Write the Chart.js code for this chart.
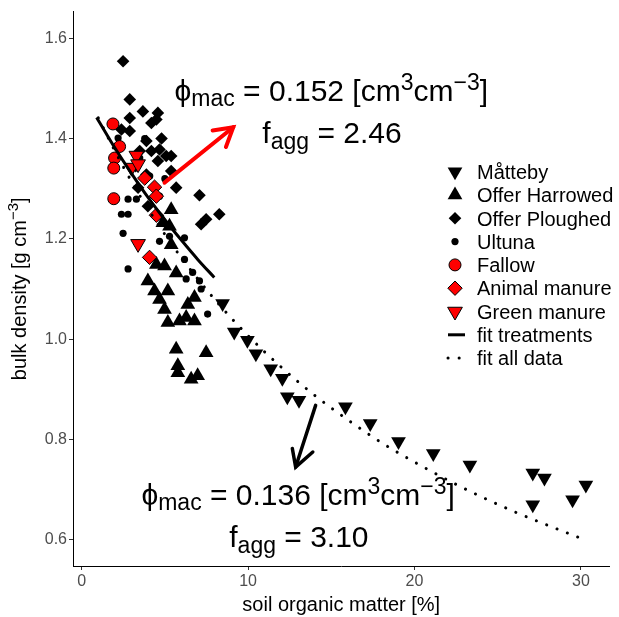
<!DOCTYPE html>
<html>
<head>
<meta charset="utf-8">
<script src="https://cdn.jsdelivr.net/npm/chart.js@4.4.1/dist/chart.umd.min.js"></script>
<style>
  html, body { margin: 0; padding: 0; background: #fff; }
</style>
</head>
<body>
<canvas id="myChart" width="619" height="617"></canvas>
<script>
// values, [SOM %, bulk density g cm-3]
var matteby = [[8.47,1.071],[9.17,1.014],[9.96,0.998],[10.47,0.971],[11.36,0.941],[12.06,0.922],
  [12.36,0.885],[13.06,0.878],[15.85,0.865],[17.34,0.832],[19.04,0.796],[21.13,0.772],[23.33,0.749],
  [27.11,0.733],[27.81,0.723],[27.11,0.670],[29.5,0.680],[30.30,0.709]];
var offerHarrowed = [[5.38,1.258],[4.88,1.232],[5.28,1.225],[5.38,1.188],[4.49,1.149],[4.98,1.146],
  [5.68,1.132],[3.98,1.116],[4.38,1.096],[5.18,1.096],[4.68,1.079],[4.98,1.059],[6.38,1.069],
  [6.78,1.083],[5.18,1.033],[5.88,1.036],[6.28,1.043],[6.78,1.036],[5.68,0.980],[7.48,0.973],
  [5.78,0.947],[5.78,0.933],[6.58,0.920],[6.97,0.927]];
var offerPloughed = [[2.49,1.554],[2.89,1.478],[3.68,1.454],[4.58,1.451],[2.89,1.441],[4.19,1.431],
  [4.49,1.438],[2.39,1.418],[2.89,1.415],[3.89,1.395],[4.68,1.378],[5.08,1.365],[5.38,1.365],
  [4.19,1.375],[4.58,1.355],[3.89,1.328],[5.68,1.302],[7.08,1.287],[8.27,1.249],[7.48,1.239],
  [3.39,1.302],[7.18,1.229],[3.98,1.265],[3.25,1.345],[3.49,1.375],[4.8,1.40],[5.38,1.335]];
var ultuna = [[2.19,1.401],[3.49,1.361],[2.79,1.279],[3.29,1.279],[2.39,1.249],[2.79,1.249],
  [2.49,1.211],[2.79,1.140],[6.18,1.202],[6.18,1.159],[6.28,1.120],[6.67,1.133],[7.08,1.116],
  [7.18,1.100],[7.57,1.050],[3.79,1.40],[4.68,1.285],[4.09,1.325],[5.28,1.205],[4.68,1.195],[5.0,1.32]];
var fallow = [[1.88,1.429],[2.28,1.384],[1.98,1.361],[1.93,1.341],[1.93,1.280]];
var animalManure = [[3.79,1.321],[4.38,1.303],[4.49,1.285],[4.49,1.247],[4.08,1.163]];
var greenManure = [[3.29,1.366],[3.0,1.342],[3.39,1.349],[3.39,1.190]];

// fitted curves
var fitTreatments = [[0.9,1.442],[2,1.381],[3,1.330],[4,1.282],[5,1.238],[6,1.197],[7,1.158],[7.97,1.123]];
var fitAll = [[1,1.441],[2,1.375],[3,1.314],[4,1.259],[5,1.209],[6,1.162],[8,1.079],[10,1.007],
  [12,0.944],[14,0.888],[16,0.839],[18,0.794],[20,0.755],[22,0.719],[24,0.686],[26,0.656],
  [28,0.629],[30,0.603]];

// arrows (data units)
var redArrow = [[4.98,1.312],[9.11,1.4225]];
var redHead = [[7.87,1.416],[9.11,1.4225],[8.67,1.383]];
var blackArrow = [[14.06,0.868],[12.86,0.745]];
var blackHead = [[12.66,0.782],[12.86,0.745],[13.89,0.775]];

var xTicks = [0, 10, 20, 30];
var yTicks = [0.6, 0.8, 1.0, 1.2, 1.4, 1.6];

var FONT = '"Liberation Sans", Arial, sans-serif';

function xy(arr) {
  return arr.map(function (p) { return { x: p[0], y: p[1] }; });
}

function pts(label, arr, style, r, rot, fill, stroke, bw, order) {
  return {
    label: label, data: xy(arr), showLine: false,
    pointStyle: style, pointRadius: r, pointRotation: rot,
    pointBackgroundColor: fill, pointBorderColor: stroke, pointBorderWidth: bw,
    order: order
  };
}

function arrow(arr, col, w) {
  return {
    data: xy(arr), showLine: true, isArrow: true, pointRadius: 0,
    borderColor: col, borderWidth: w, borderCapStyle: 'round', borderJoinStyle: 'miter',
    fill: false, order: 0
  };
}

// text with sub/superscripts
function rich(ctx, x, y, parts) {
  var cx = x;
  parts.forEach(function (p) {
    ctx.font = p[1] + 'px ' + FONT;
    ctx.fillText(p[0], cx, y + (p[2] || 0));
    cx += ctx.measureText(p[0]).width;
  });
}
function richWidth(ctx, parts) {
  var w = 0;
  parts.forEach(function (p) {
    ctx.font = p[1] + 'px ' + FONT;
    w += ctx.measureText(p[0]).width;
  });
  return w;
}

var labels = [
  { at: [5.58, 1.474], parts: [['ϕ', 30], ['mac', 23, 5], [' = 0.152 [cm', 30], ['3', 23, -11], ['cm', 30], ['−3', 23, -11], [']', 30]] },
  { at: [10.86, 1.391], parts: [['f', 30], ['agg', 23, 6], [' = 2.46', 30]] },
  { at: [3.59, 0.669], parts: [['ϕ', 30], ['mac', 23, 5], [' = 0.136 [cm', 30], ['3', 23, -11], ['cm', 30], ['−3', 23, -11], [']', 30]] },
  { at: [8.87, 0.586], parts: [['f', 30], ['agg', 23, 6], [' = 3.10', 30]] }
];

var textPlugin = {
  id: 'texts',
  afterDatasetsDraw: function (chart) {
    var ctx = chart.ctx, sx = chart.scales.x, sy = chart.scales.y;
    ctx.save();
    ctx.fillStyle = '#000';
    ctx.textBaseline = 'alphabetic';
    ctx.textAlign = 'left';
    labels.forEach(function (l) {
      rich(ctx, sx.getPixelForValue(l.at[0]), sy.getPixelForValue(l.at[1]), l.parts);
    });
    ctx.restore();
  },
  afterDraw: function (chart) {
    var ctx = chart.ctx, a = chart.chartArea;
    ctx.save();
    ctx.fillStyle = '#000';
    ctx.textAlign = 'left';
    ctx.textBaseline = 'alphabetic';

    // axis titles
    ctx.font = '20px ' + FONT;
    var xt = 'soil organic matter [%]';
    ctx.fillText(xt, (a.left + a.right) / 2 - ctx.measureText(xt).width / 2, 611);

    var yParts = [['bulk density [g cm', 20], ['−3', 15, -8], [']', 20]];
    var yw = richWidth(ctx, yParts);
    ctx.translate(26, (a.top + a.bottom) / 2 + yw / 2);
    ctx.rotate(-Math.PI / 2);
    rich(ctx, 0, 0, yParts);
    ctx.setTransform(1, 0, 0, 1, 0, 0);

    // legend
    var lx = 455, tx = 477, ly = 171.7, step = 23.3;
    chart.data.datasets.filter(function (d) { return !d.isArrow; }).forEach(function (d, i) {
      var y = ly + i * step;
      if (d.showLine) {
        ctx.save();
        ctx.strokeStyle = d.borderColor;
        ctx.lineWidth = d.borderWidth;
        ctx.lineCap = d.borderCapStyle || 'butt';
        ctx.setLineDash(d.borderDash || []);
        ctx.beginPath();
        ctx.moveTo(lx - 7, y);
        ctx.lineTo(lx + 10, y);
        ctx.stroke();
        ctx.restore();
      } else {
        ctx.fillStyle = d.pointBackgroundColor;
        ctx.strokeStyle = d.pointBorderColor;
        ctx.lineWidth = d.pointBorderWidth;
        Chart.helpers.drawPoint(ctx, {
          pointStyle: d.pointStyle, rotation: d.pointRotation,
          radius: d.pointRadius, borderWidth: d.pointBorderWidth
        }, lx, y);
      }
      ctx.fillStyle = '#000';
      ctx.font = '20px ' + FONT;
      ctx.fillText(d.label, tx, y + 7.2);
    });
    ctx.restore();
  }
};

new Chart(document.getElementById('myChart'), {
  type: 'scatter',
  data: {
    datasets: [
      pts('Måtteby', matteby, 'triangle', 8.5, 180, '#000', '#000', 0, 3),
      pts('Offer Harrowed', offerHarrowed, 'triangle', 8.5, 0, '#000', '#000', 0, 3),
      pts('Offer Ploughed', offerPloughed, 'rectRot', 6.3, 0, '#000', '#000', 0, 3),
      pts('Ultuna', ultuna, 'circle', 3.6, 0, '#000', '#000', 0, 3),
      pts('Fallow', fallow, 'circle', 6, 0, '#ff0000', '#000', 1, 2),
      pts('Animal manure', animalManure, 'rectRot', 7.2, 0, '#ff0000', '#000', 1, 2),
      pts('Green manure', greenManure, 'triangle', 8.5, 180, '#ff0000', '#000', 1, 2),
      {
        label: 'fit treatments', data: xy(fitTreatments), showLine: true, pointRadius: 0,
        borderColor: '#000', borderWidth: 3, cubicInterpolationMode: 'monotone', fill: false, order: 1
      },
      {
        label: 'fit all data', data: xy(fitAll), showLine: true, pointRadius: 0,
        borderColor: '#000', borderWidth: 3, borderDash: [0.1, 11], borderCapStyle: 'round',
        cubicInterpolationMode: 'monotone', fill: false, order: 1
      },
      arrow(redArrow, '#ff0000', 4),
      arrow(redHead, '#ff0000', 4),
      arrow(blackArrow, '#000', 3.5),
      arrow(blackHead, '#000', 3.5)
    ]
  },
  options: {
    responsive: false,
    animation: false,
    events: [],
    layout: { padding: { left: 0, right: 7, top: 10, bottom: 0 } },
    plugins: { legend: { display: false }, tooltip: { enabled: false } },
    scales: {
      x: {
        type: 'linear', min: -0.52, max: 31.72,
        afterBuildTicks: function (s) { s.ticks = xTicks.map(function (v) { return { value: v }; }); },
        afterFit: function (s) { s.height = 51; },
        grid: { drawOnChartArea: false, drawTicks: true, tickLength: 4, color: '#333', lineWidth: 1 },
        border: { display: true, color: '#000', width: 1 },
        ticks: { font: { family: FONT, size: 16 }, color: '#4d4d4d', padding: 2, maxRotation: 0,
          callback: function (v) { return String(v); } }
      },
      y: {
        type: 'linear', min: 0.5477, max: 1.653,
        afterBuildTicks: function (s) { s.ticks = yTicks.map(function (v) { return { value: v }; }); },
        afterFit: function (s) { s.width = 73; },
        grid: { drawOnChartArea: false, drawTicks: true, tickLength: 4, color: '#333', lineWidth: 1 },
        border: { display: true, color: '#000', width: 1 },
        ticks: { font: { family: FONT, size: 16 }, color: '#4d4d4d', padding: 2,
          callback: function (v) { return v.toFixed(1); } }
      }
    }
  },
  plugins: [textPlugin]
});
</script>
</body>
</html>
